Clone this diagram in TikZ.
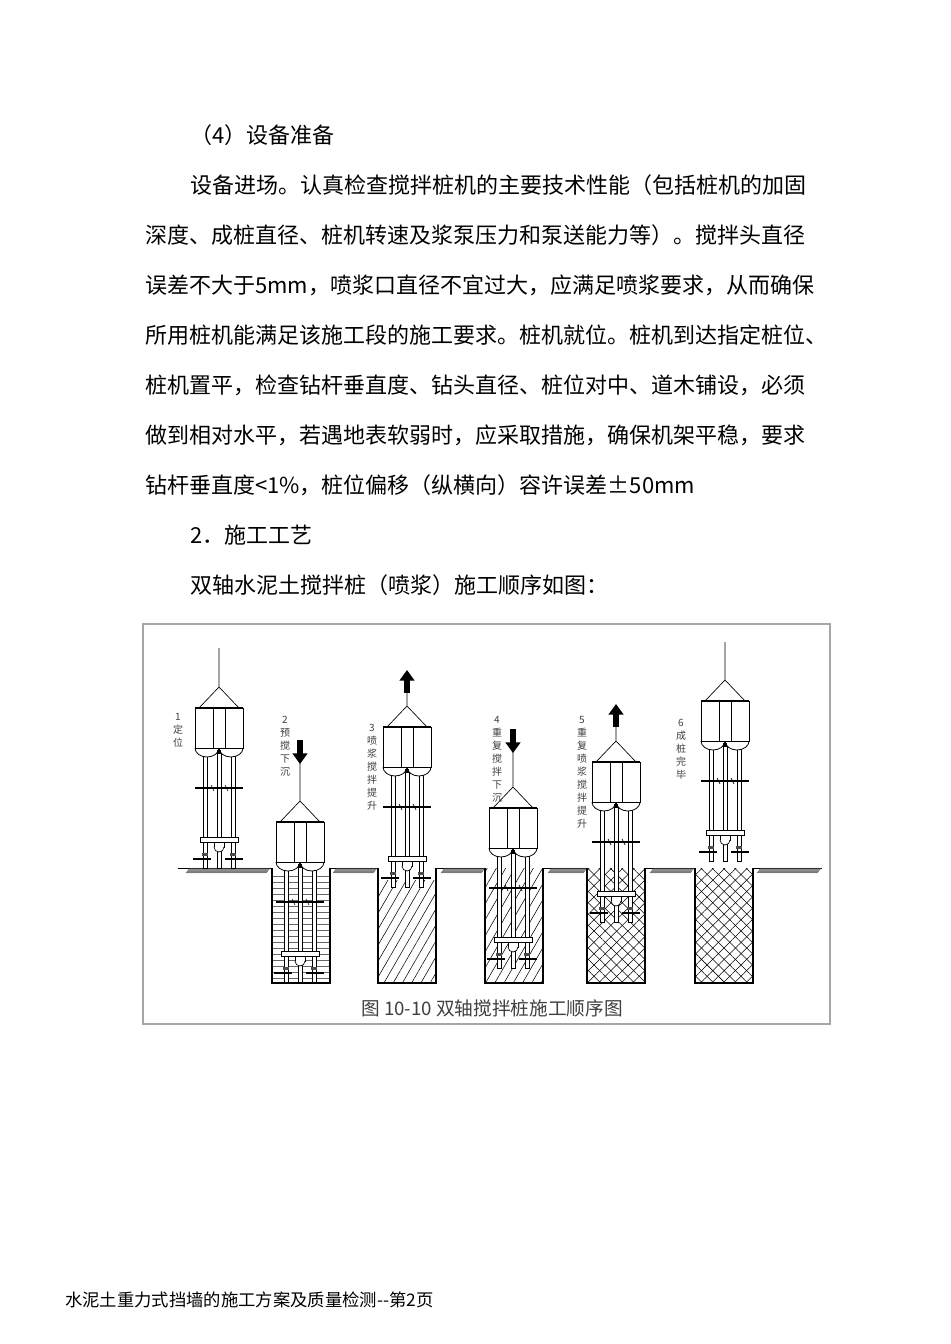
\documentclass[tikz,border=0pt]{standalone}
\usepackage{fontspec}
\newfontfamily\cjk{Noto Sans CJK SC}
\usetikzlibrary{patterns.meta,arrows.meta}
\tikzset{body/.style={anchor=west,font=\cjk\fontsize{16.5}{18}\selectfont,inner sep=0pt},
 vlab/.style={anchor=north,font=\cjk\fontsize{7.5}{9.8}\selectfont,align=center,inner sep=0pt,text=black!75},
 pit/.style={draw,line width=0.8pt},
 rod/.style={draw,fill=white,line width=0.5pt},
 bigarrow/.style={-{Triangle[width=11pt,length=8pt]},line width=5pt}}
\newcommand{\machine}[3]{% cx, T, ropetop
 \draw[line width=0.5pt] (#1,#3) -- (#1,#2-21) -- (#1-20,#2) (#1,#2-21) -- (#1+20,#2);
 \foreach \o in {-14,0,14}{\draw[rod] (#1+\o-2,#2+45) rectangle (#1+\o+2,#2+160);}
 \draw[fill=white,line width=0.6pt] (#1-24,#2+40) arc[start angle=180,end angle=0,x radius=12,y radius=9] arc[start angle=180,end angle=0,x radius=12,y radius=9];
 \draw[fill=white,line width=0.6pt] (#1-24,#2) rectangle (#1+24,#2+40);
 \draw[line width=1.6pt] (#1-24,#2) -- (#1+24,#2);
 \draw[line width=0.5pt] (#1-6,#2) -- (#1-6,#2+40) (#1+6,#2) -- (#1+6,#2+40);
 \fill (#1-2,#2+42) rectangle (#1+2,#2+46);
 \draw[line width=1.4pt] (#1-24,#2+80) -- (#1+24,#2+80);
 \draw[line width=0.5pt] (#1-8,#2+77) -- (#1-5,#2+83) (#1+6,#2+77) -- (#1+9,#2+83);
 \draw[fill=white,line width=0.6pt] (#1-19,#2+129) rectangle (#1+19,#2+134);
 \draw[fill=white,line width=0.5pt] (#1-5,#2+134) rectangle (#1+5,#2+139);
 \draw[fill=white,line width=0.5pt] (#1-5,#2+139) arc[start angle=180,end angle=0,radius=5];
 \foreach \o in {-14,14}{\fill[black!70] (#1+\o-3,#2+145) rectangle (#1+\o+3,#2+148);}
 \draw[line width=0.9pt] (#1-26,#2+151) -- (#1-8,#2+151) (#1+6,#2+151) -- (#1+24,#2+151);
}
\newcommand{\groundhatch}[2]{\foreach \x in {#1,...,#2}{\draw[line width=0.35pt,black!70] (\x,873) -- (\x+4,868);}}
\begin{document}
\begin{tikzpicture}[x=0.75pt,y=-0.75pt]
\useasboundingbox (0,0) rectangle (950,1344);
\fill[white] (0,0) rectangle (950,1344);
\node[body] at (190,135) {（4）设备准备};
\node[body] at (190,185) {设备进场。认真检查搅拌桩机的主要技术性能（包括桩机的加固};
\node[body] at (145,235) {深度、成桩直径、桩机转速及浆泵压力和泵送能力等）。搅拌头直径};
\node[body] at (145,285) {误差不大于5mm，喷浆口直径不宜过大，应满足喷浆要求，从而确保};
\node[body] at (145,335) {所用桩机能满足该施工段的施工要求。桩机就位。桩机到达指定桩位、};
\node[body] at (145,385) {桩机置平，检查钻杆垂直度、钻头直径、桩位对中、道木铺设，必须};
\node[body] at (145,435) {做到相对水平，若遇地表软弱时，应采取措施，确保机架平稳，要求};
\node[body] at (145,485) {钻杆垂直度<1\%，桩位偏移（纵横向）容许误差±50mm};
\node[body] at (190,535) {2．施工工艺};
\node[body] at (190,585) {双轴水泥土搅拌桩（喷浆）施工顺序如图：};
\draw[black!35,line width=0.8pt] (143,624) rectangle (830,1024);
% pits fills
\fill[pattern={Lines[angle=0,distance=4.5pt,line width=0.3pt]},pattern color=black!60] (272,872) rectangle (330,983);
\fill[pattern={Lines[angle=60,distance=6pt,line width=0.4pt]}] (378,880) rectangle (436,983);
\fill[pattern={Lines[angle=60,distance=6pt,line width=0.4pt]}] (485,868) rectangle (543,983);
\fill[pattern={Lines[angle=45,distance=6pt,line width=0.4pt]}] (587,868) rectangle (645,983);
\fill[pattern={Lines[angle=-45,distance=6pt,line width=0.4pt]}] (587,868) rectangle (645,983);
\fill[pattern={Lines[angle=45,distance=6pt,line width=0.4pt]}] (695,868) rectangle (753,983);
\fill[pattern={Lines[angle=-45,distance=6pt,line width=0.4pt]}] (695,868) rectangle (753,983);
% ground
\draw[line width=0.7pt] (178,868) -- (272,868) (330,868) -- (378,868) (436,868) -- (485,868) (543,868) -- (587,868) (645,868) -- (695,868) (753,868) -- (822,868);
\groundhatch{186}{266}\groundhatch{333}{373}\groundhatch{441}{481}\groundhatch{548}{583}\groundhatch{650}{690}\groundhatch{757}{817}
\foreach \a in {272,378,485,587,695}{\draw[pit] (\a,868) -- (\a,983) -- (\a+58,983) -- (\a+58,868);}
% machines
\machine{219}{708}{648}
\machine{300}{822}{760}
\machine{407}{727}{690}
\machine{513}{808}{750}
\machine{616}{762}{724}
\machine{725}{701}{642}
% arrows
\draw[bigarrow] (300,740) -- (300,764);
\draw[bigarrow] (407,693) -- (407,670);
\draw[bigarrow] (513,729) -- (513,753);
\draw[bigarrow] (616,727) -- (616,704);
% labels
\node[vlab] (l1) at (178,713) {1\\定\\位};
\node[vlab] (l2) at (285,716) {2\\预\\搅\\下\\沉};
\node[vlab] (l3) at (372,724) {3\\喷\\浆\\搅\\拌\\提\\升};
\node[vlab] (l4) at (497,716) {4\\重\\复\\搅\\拌\\下\\沉};
\node[vlab] (l5) at (582,716) {5\\重\\复\\喷\\浆\\搅\\拌\\提\\升};
\node[vlab] (l6) at (681,719) {6\\成\\桩\\完\\毕};
\node[font=\cjk\fontsize{14}{16}\selectfont,text=black!75] (cap) at (492,1008) {图 10-10 双轴搅拌桩施工顺序图};
\node[anchor=west,font=\cjk\fontsize{13}{15}\selectfont,inner sep=0pt] (foot) at (65,1300) {水泥土重力式挡墙的施工方案及质量检测--第2页};
\end{tikzpicture}
\end{document}
